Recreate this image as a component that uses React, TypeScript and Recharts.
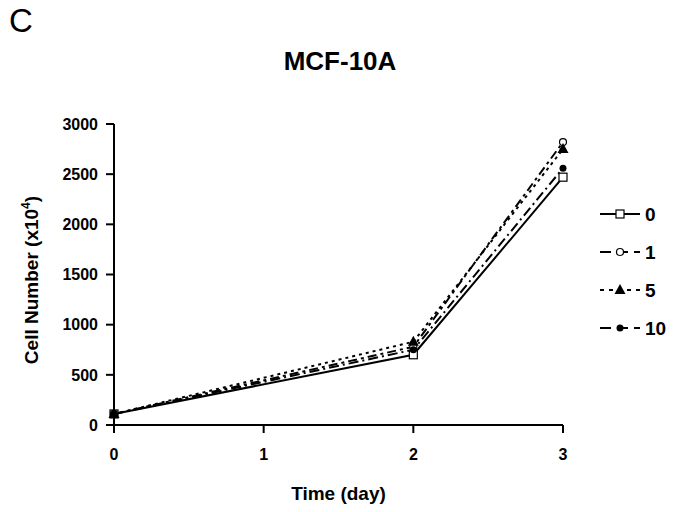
import { Line, LineChart, XAxis, YAxis } from "recharts";

const days = [0, 1, 2, 3];
const sampledDays = [0, 2, 3];
const dose0 = [110, 700, 2470];
const dose1 = [110, 780, 2820];
const dose5 = [110, 830, 2750];
const dose10 = [110, 750, 2560];
const yTicks = [0, 500, 1000, 1500, 2000, 2500, 3000];

const data = sampledDays.map((d, i) => ({
  day: d,
  d0: dose0[i],
  d1: dose1[i],
  d5: dose5[i],
  d10: dose10[i],
}));

const FONT = "'Liberation Sans', Arial, sans-serif";

const SERIES = [
  { key: "d0", name: "0", dash: undefined as string | undefined, legendDash: undefined as string | undefined, marker: "square" },
  { key: "d1", name: "1", dash: "9 4 3 4", legendDash: "11 6", marker: "circle" },
  { key: "d5", name: "5", dash: "3 4", legendDash: "4 5", marker: "triangle" },
  { key: "d10", name: "10", dash: "10 4 2 4", legendDash: "11 6", marker: "dot" },
];

function Marker({ cx, cy, kind }: { cx: number; cy: number; kind: string }) {
  if (kind === "square")
    return <rect x={cx - 4} y={cy - 4} width={8} height={8} fill="#fff" stroke="#000" strokeWidth={1.2} />;
  if (kind === "circle") return <circle cx={cx} cy={cy} r={3.5} fill="#fff" stroke="#000" strokeWidth={1.2} />;
  if (kind === "triangle")
    return <polygon points={`${cx},${cy - 6} ${cx - 5.5},${cy + 4} ${cx + 5.5},${cy + 4}`} fill="#000" />;
  return <circle cx={cx} cy={cy} r={3.5} fill="#000" />;
}

function dotFor(kind: string) {
  return (p: any) => <Marker key={`${kind}-${p.index}`} cx={p.cx} cy={p.cy} kind={kind} />;
}

function LegendBox() {
  return (
    <svg width={80} height={150} style={{ position: "absolute", left: 598, top: 195 }}>
      {SERIES.map((s, i) => {
        const y = 19 + i * 38;
        return (
          <g key={s.key}>
            <line x1={2} x2={42} y1={y} y2={y} stroke="#000" strokeWidth={2} strokeDasharray={s.legendDash} />
            <Marker cx={22} cy={y} kind={s.marker} />
            <text x={47} y={y + 7} fontFamily={FONT} fontWeight="bold" fontSize={19} fill="#000">
              {s.name}
            </text>
          </g>
        );
      })}
    </svg>
  );
}

export default function App() {
  return (
    <div style={{ position: "absolute", left: 0, top: 0, width: 680, height: 512, background: "#fff", fontFamily: FONT }}>
      <div style={{ position: "absolute", left: 9, top: 2, fontSize: 33, fontFamily: FONT, color: "#000" }}>C</div>
      <div
        style={{ position: "absolute", left: 0, width: 680, top: 46, textAlign: "center", fontSize: 26, fontWeight: "bold", color: "#000" }}
      >
        MCF-10A
      </div>
      <svg width={60} height={512} style={{ position: "absolute", left: 0, top: 0 }}>
        <text transform="translate(38, 280) rotate(-90)" textAnchor="middle" fontFamily={FONT} fontWeight="bold" fontSize={19} fill="#000">
          Cell Number (x10<tspan dy={-8} fontSize={12}>4</tspan>
          <tspan dy={8}>)</tspan>
        </text>
      </svg>
      <LineChart width={680} height={512} data={data} margin={{ top: 124, right: 117, bottom: 0, left: 0 }}>
        <XAxis
          dataKey="day"
          type="number"
          domain={[0, 3]}
          ticks={days}
          height={87}
          tickSize={8}
          tickLine={{ stroke: "#000", strokeWidth: 2 }}
          axisLine={{ stroke: "#000", strokeWidth: 2 }}
          tick={{ fontSize: 16, fontWeight: "bold", fill: "#000", fontFamily: FONT, dy: 14 }}
          label={{ value: "Time (day)", position: "insideBottom", offset: 12, fontSize: 19, fontWeight: "bold", fill: "#000", fontFamily: FONT }}
        />
        <YAxis
          type="number"
          domain={[0, 3000]}
          ticks={yTicks}
          width={114}
          tickSize={8}
          tickLine={{ stroke: "#000", strokeWidth: 2 }}
          axisLine={{ stroke: "#000", strokeWidth: 2 }}
          tick={{ fontSize: 16, fontWeight: "bold", fill: "#000", fontFamily: FONT, dx: -6 }}
        />
        {SERIES.map((s) => (
          <Line
            key={s.key}
            type="linear"
            dataKey={s.key}
            name={s.name}
            stroke="#000"
            strokeWidth={2}
            strokeDasharray={s.dash}
            dot={dotFor(s.marker)}
            activeDot={false}
            isAnimationActive={false}
          />
        ))}
      </LineChart>
      <LegendBox />
    </div>
  );
}
